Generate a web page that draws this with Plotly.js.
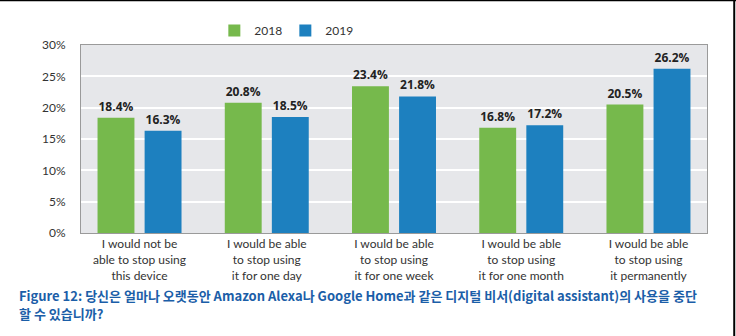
<!DOCTYPE html>
<html>
<head>
<meta charset="utf-8">
<script src="https://cdn.plot.ly/plotly-3.0.1.min.js"></script>
<style>
html,body{margin:0;padding:0;background:#fff;}
#chart{width:736px;height:336px;}
</style>
</head>
<body>
<div id="chart"></div>
<script>
const categories = [
  "I would not be<br>able to stop using<br>this device",
  "I would be able<br>to stop using<br>it for one day",
  "I would be able<br>to stop using<br>it for one week",
  "I would be able<br>to stop using<br>it for one month",
  "I would be able<br>to stop using<br>it permanently"
];
const values2018 = [18.4, 20.8, 23.4, 16.8, 20.5];
const values2019 = [16.3, 18.5, 21.8, 17.2, 26.2];
const seriesNames = ["2018", "2019"];
const yTickVals = [0, 5, 10, 15, 20, 25, 30];
const yTickText = ["0%", "5%", "10%", "15%", "20%", "25%", "30%"];
const captionLine1 = "Figure 12: 당신은 얼마나 오랫동안 Amazon Alexa나 Google Home과 같은 디지털 비서(digital assistant)의 사용을 중단";
const captionLine2 = "할 수 있습니까?";

const xs = categories.map((c, i) => i);
const labelFont = {family: "Open Sans, sans-serif", size: 12, color: "#222", weight: 700};
const captionFont = {family: "Noto Sans CJK KR, sans-serif", size: 13, color: "#1b5ea8"};

const traces = [
  {
    type: "bar", name: seriesNames[0], x: xs, y: values2018,
    width: 0.29, offset: -0.33,
    marker: {color: "#76b94c"},
    text: values2018.map(v => v.toFixed(1) + "%"),
    textposition: "outside", textfont: labelFont, cliponaxis: false,
    hoverinfo: "none"
  },
  {
    type: "bar", name: seriesNames[1], x: xs, y: values2019,
    width: 0.29, offset: 0.04,
    marker: {color: "#1d80bf"},
    text: values2019.map(v => v.toFixed(1) + "%"),
    textposition: "outside", textfont: labelFont, cliponaxis: false,
    hoverinfo: "none"
  }
];

const layout = {
  width: 736, height: 336,
  margin: {l: 81, r: 29, t: 45, b: 103},
  paper_bgcolor: "#ffffff",
  plot_bgcolor: "#e6e7ea",
  showlegend: true,
  legend: {
    orientation: "h", x: 0.213, xanchor: "left", y: 1.0, yanchor: "bottom",
    font: {family: "Lato, sans-serif", size: 12, color: "#333"},
    itemwidth: 30, entrywidth: 26, entrywidthmode: "pixels",
    bgcolor: "rgba(0,0,0,0)"
  },
  xaxis: {
    range: [-0.46, 4.46],
    tickvals: xs, ticktext: categories,
    tickfont: {family: "Lato, sans-serif", size: 12, color: "#333"},
    showgrid: false, zeroline: false, ticks: "",
    showline: true, linecolor: "#9a9a9a", linewidth: 1, mirror: true,
    fixedrange: true
  },
  yaxis: {
    range: [0, 30],
    tickvals: yTickVals, ticktext: yTickText,
    tickfont: {family: "Lato, sans-serif", size: 12, color: "#333"},
    showgrid: true, gridcolor: "#ffffff", gridwidth: 2,
    zeroline: false, ticks: "", ticklabelstandoff: 12,
    showline: true, linecolor: "#9a9a9a", linewidth: 1, mirror: true,
    fixedrange: true
  },
  annotations: [
    {
      xref: "paper", yref: "paper", x: -0.102, y: -0.335,
      xanchor: "left", yanchor: "middle", align: "left", showarrow: false,
      text: "<b>" + captionLine1 + "</b>", font: captionFont
    },
    {
      xref: "paper", yref: "paper", x: -0.102, y: -0.426,
      xanchor: "left", yanchor: "middle", align: "left", showarrow: false,
      text: "<b>" + captionLine2 + "</b>", font: captionFont
    }
  ],
  shapes: [
    {type: "line", xref: "paper", yref: "paper", x0: -0.2, x1: 1.05, y0: 1.238, y1: 1.238, line: {color: "#000", width: 2}},
    {type: "line", xref: "paper", yref: "paper", x0: 1.0435, x1: 1.0435, y0: -0.55, y1: 1.24, line: {color: "#000", width: 2}}
  ]
};

Plotly.newPlot("chart", traces, layout, {displayModeBar: false, staticPlot: true});
</script>
</body>
</html>
